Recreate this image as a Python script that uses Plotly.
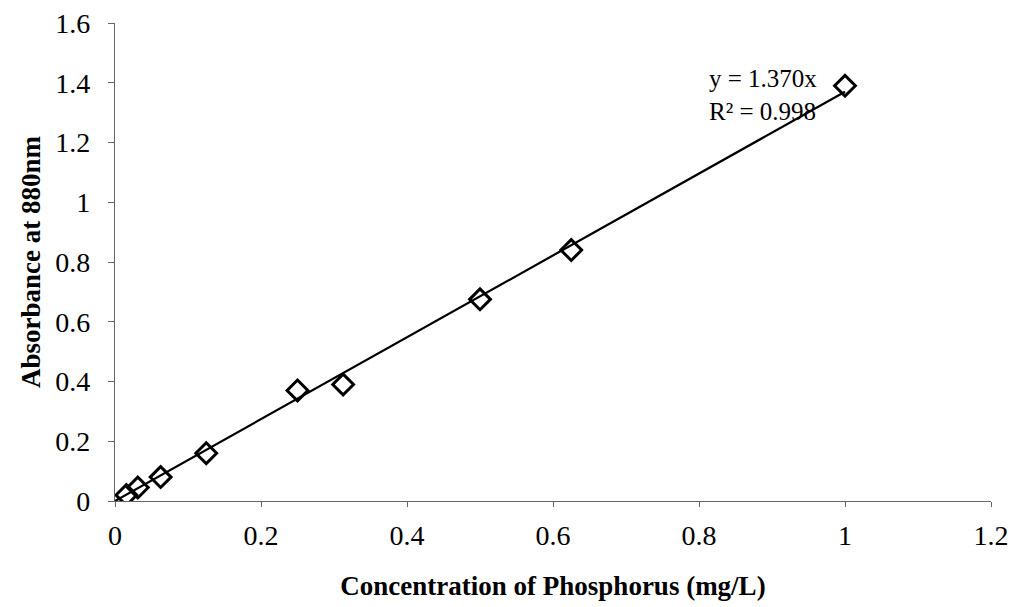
import plotly.graph_objects as go

concentration = [0.0156, 0.03125, 0.0625, 0.125, 0.25, 0.3125, 0.5, 0.625, 1.0]
absorbance = [0.02, 0.045, 0.08, 0.16, 0.37, 0.39, 0.675, 0.84, 1.39]
slope = 1.370
r_squared = 0.998
trend_x = [0.0, 1.0]
x_ticks = [0, 0.2, 0.4, 0.6, 0.8, 1, 1.2]
y_ticks = [0, 0.2, 0.4, 0.6, 0.8, 1, 1.2, 1.4, 1.6]

font_family = "Liberation Serif, Times New Roman, serif"

fig = go.Figure()
fig.add_trace(go.Scatter(
    x=trend_x, y=[slope * v for v in trend_x], mode="lines",
    line=dict(color="black", width=2.2), showlegend=False, hoverinfo="skip"))
fig.add_trace(go.Scatter(
    x=concentration, y=absorbance, mode="markers",
    marker=dict(symbol="diamond-open", size=16, color="black",
                line=dict(color="black", width=3)),
    showlegend=False))

fig.add_annotation(x=0.811, y=1.358, xref="x", yref="y", xanchor="left", yanchor="middle",
                   align="left",
                   text=f"y = {slope:.3f}x<br>R² = {r_squared:.3f}", showarrow=False,
                   font=dict(family=font_family, size=25, color="black"))

fig.update_layout(
    width=1009, height=607,
    margin=dict(l=115, r=18, t=23, b=106),
    paper_bgcolor="white", plot_bgcolor="white",
    font=dict(family=font_family, size=28, color="black"),
    xaxis=dict(range=[0, 1.2], tickvals=x_ticks, ticktext=[f"{v:g}" for v in x_ticks],
               automargin=False,
               showgrid=False, zeroline=False, showline=True, linecolor="#666",
               linewidth=1.2, ticks="outside", ticklen=5, tickcolor="#666",
               ticklabelstandoff=4,
               title=dict(text="<b>Concentration of Phosphorus (mg/L)</b>", standoff=26,
                          font=dict(family=font_family, size=27))),
    yaxis=dict(range=[0, 1.6], tickvals=y_ticks, ticktext=[f"{v:g}" for v in y_ticks],
               automargin=False,
               showgrid=False, zeroline=False, showline=True, linecolor="#666",
               linewidth=1.2, ticks="outside", ticklen=6, tickcolor="#666",
               ticklabelstandoff=12,
               title=dict(text="<b>Absorbance at 880nm</b>", standoff=6,
                          font=dict(family=font_family, size=27))),
)

fig.write_html("out.html")
